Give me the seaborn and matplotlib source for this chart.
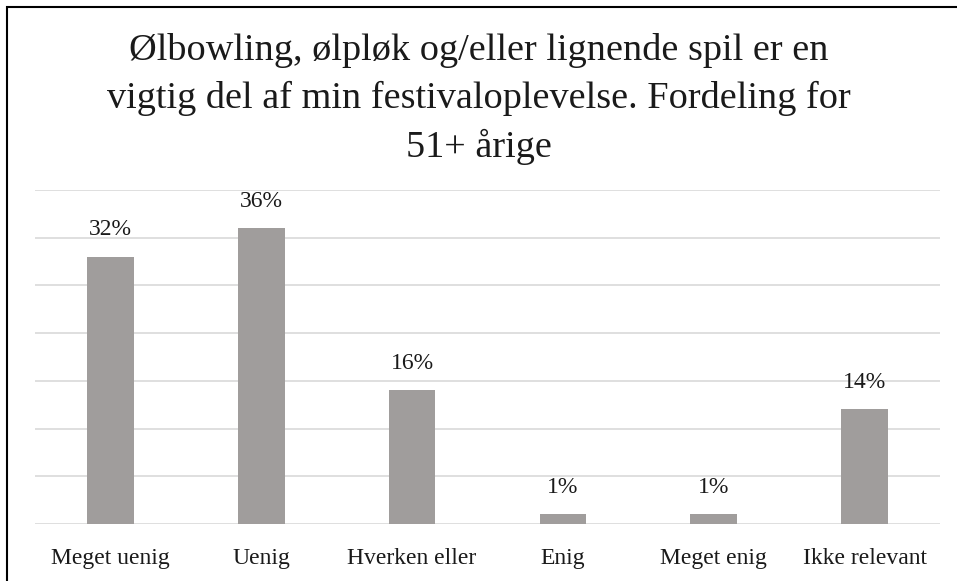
import matplotlib
matplotlib.use("Agg")
import matplotlib.pyplot as plt
import seaborn as sns
import pandas as pd
from matplotlib.patches import Rectangle

categories = ["Meget uenig", "Uenig", "Hverken eller", "Enig", "Meget enig", "Ikke relevant"]
counts = [28, 31, 14, 1, 1, 12]
pct_labels = ["32%", "36%", "16%", "1%", "1%", "14%"]
title = "Ølbowling, ølpløk og/eller lignende spil er en\nvigtig del af min festivaloplevelse. Fordeling for\n51+ årige"

sns.set_theme(style="white")
plt.rcParams["font.family"] = ["Liberation Serif", "DejaVu Serif"]

df = pd.DataFrame({"cat": categories, "n": counts})

W, H = 957, 581
fig = plt.figure(figsize=(W / 100, H / 100), dpi=100)
ax = fig.add_axes([35 / W, (H - 524) / H, 905 / W, 334 / H])

sns.barplot(data=df, x="cat", y="n", color="#A09D9C", saturation=1, width=0.31, ax=ax, zorder=3)
for p in ax.patches:
    p.set_edgecolor("none")

ax.set_ylim(0, 35)
ax.set_xlim(-0.5, len(categories) - 0.5)
ax.set_yticks(range(0, 36, 5))
ax.yaxis.grid(True, color="#D9D9D9", linewidth=1.2, zorder=0)
ax.set_yticklabels([])
ax.tick_params(axis="y", length=0)
ax.tick_params(axis="x", length=0, pad=17, labelsize=17, labelcolor="#1a1a1a")
for s in ax.spines.values():
    s.set_visible(False)
ax.set_xlabel("")
ax.set_ylabel("")

for i, (v, lab) in enumerate(zip(counts, pct_labels)):
    ax.annotate(lab, (i, v), xytext=(0, 12), textcoords="offset points",
                ha="center", va="bottom", fontsize=17, color="#1a1a1a")

fig.text(0.5, 1 - 99 / H, title, ha="center", va="center", fontsize=27.5,
         linespacing=1.45, color="#1a1a1a")

fig.patches.append(Rectangle((7 / W, -0.1), 1.2, 1 - 7 / H + 0.1, transform=fig.transFigure,
                             fill=False, edgecolor="black", linewidth=1.5))

fig.savefig("out.png", dpi=100)
